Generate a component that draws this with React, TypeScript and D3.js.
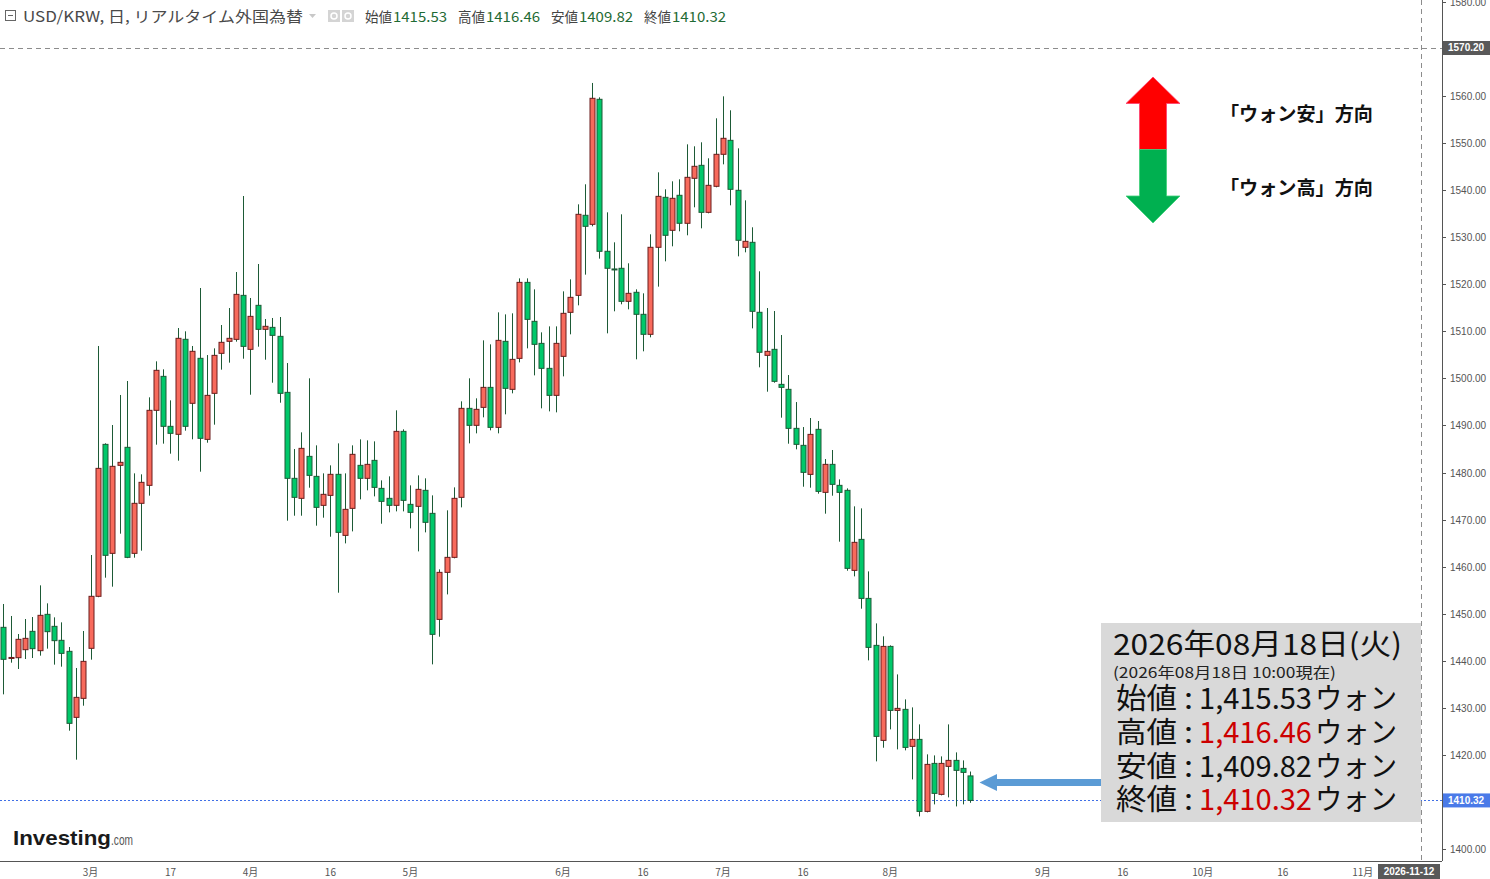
import { useEffect, useRef } from "react";
import * as d3 from "d3";

// daily candles, USD/KRW (trading days from 2026-02-12 to 2026-08-18)
const opens = [
  1447.1, 1440.5, 1440.65, 1442.35, 1446.25, 1442.14, 1449.86, 1447.31, 1444.34, 1442.0,
  1427.97, 1432.01, 1442.64, 1453.69, 1485.98, 1462.82, 1481.52, 1485.35, 1462.82, 1473.45,
  1477.27, 1493.21, 1500.43, 1489.81, 1488.11, 1508.3, 1494.7, 1504.26, 1487.04, 1496.82,
  1505.32, 1507.87, 1508.29, 1517.64, 1506.17, 1515.52, 1510.42, 1510.84, 1508.93, 1497.03,
  1478.76, 1474.51, 1483.43, 1479.18, 1473.02, 1475.14, 1479.61, 1466.64, 1472.38, 1481.52,
  1478.76, 1482.58, 1476.63, 1474.51, 1473.02, 1488.74, 1473.23, 1472.81, 1476.21, 1471.32,
  1448.79, 1458.78, 1461.97, 1474.72, 1493.63, 1490.02, 1493.84, 1498.09, 1489.59, 1507.87,
  1497.67, 1504.25, 1520.4, 1512.12, 1507.44, 1502.13, 1496.39, 1504.68, 1514.03, 1517.64,
  1534.65, 1532.73, 1559.3, 1527.0, 1523.25, 1523.39, 1516.37, 1518.29, 1513.61, 1509.36,
  1527.85, 1538.47, 1531.46, 1538.9, 1532.95, 1542.51, 1545.27, 1535.28, 1540.81, 1547.61,
  1550.58, 1539.96, 1527.85, 1528.91, 1514.04, 1504.89, 1506.17, 1498.73, 1497.67, 1489.38,
  1485.77, 1479.6, 1489.17, 1475.78, 1481.73, 1477.27, 1476.21, 1459.2, 1465.79, 1453.25,
  1443.27, 1423.08, 1443.05, 1429.45, 1429.67, 1421.81, 1423.29, 1407.99, 1418.19, 1411.61,
  1417.56, 1418.83, 1417.13, 1415.53,
];
const highs = [
  1452.06, 1449.51, 1445.68, 1448.87, 1449.29, 1456.02, 1452.2, 1449.22, 1448.16, 1442.92,
  1438.46, 1446.32, 1462.47, 1506.88, 1486.2, 1490.09, 1496.47, 1499.44, 1479.82, 1479.61,
  1495.97, 1503.62, 1501.92, 1495.33, 1510.7, 1510.0, 1506.88, 1519.2, 1504.96, 1506.38,
  1511.34, 1514.95, 1522.6, 1538.75, 1517.08, 1524.3, 1512.61, 1512.83, 1513.04, 1503.26,
  1484.99, 1488.53, 1500.01, 1485.77, 1479.82, 1481.52, 1486.19, 1479.82, 1485.77, 1487.04,
  1486.83, 1486.62, 1478.33, 1479.18, 1493.21, 1489.17, 1477.27, 1479.39, 1478.76, 1475.14,
  1459.42, 1471.96, 1476.84, 1495.12, 1500.01, 1495.76, 1508.08, 1507.23, 1514.03, 1513.6,
  1513.82, 1521.25, 1521.25, 1518.92, 1509.78, 1511.05, 1511.05, 1518.49, 1521.04, 1536.98,
  1541.24, 1562.77, 1559.72, 1535.28, 1528.91, 1534.86, 1524.45, 1518.92, 1518.07, 1530.61,
  1543.78, 1540.17, 1541.87, 1542.3, 1549.73, 1549.31, 1550.16, 1546.76, 1555.26, 1559.93,
  1556.96, 1548.88, 1537.83, 1532.1, 1522.75, 1514.95, 1514.31, 1509.21, 1500.71, 1494.97,
  1489.66, 1491.58, 1490.94, 1482.86, 1484.78, 1478.54, 1476.63, 1472.81, 1472.38, 1458.99,
  1447.94, 1445.18, 1443.27, 1437.1, 1431.79, 1430.09, 1426.48, 1420.11, 1419.89, 1419.68,
  1426.48, 1420.53, 1418.83, 1416.46,
];
const lows = [
  1432.86, 1439.59, 1438.25, 1440.37, 1440.58, 1441.08, 1442.57, 1439.17, 1438.74, 1425.14,
  1418.98, 1430.45, 1440.23, 1453.5, 1457.65, 1455.74, 1467.0, 1461.8, 1461.9, 1463.39,
  1475.08, 1485.91, 1486.13, 1484.0, 1482.51, 1488.89, 1487.05, 1480.17, 1486.33, 1490.16,
  1501.85, 1503.34, 1507.8, 1504.18, 1496.53, 1506.73, 1503.97, 1499.08, 1494.83, 1469.76,
  1470.82, 1470.82, 1476.77, 1468.7, 1470.4, 1466.36, 1454.46, 1464.94, 1467.49, 1474.29,
  1476.21, 1474.93, 1469.12, 1471.53, 1471.74, 1471.74, 1468.13, 1463.24, 1467.28, 1439.23,
  1445.11, 1454.1, 1461.76, 1472.59, 1486.19, 1488.32, 1491.72, 1488.96, 1488.32, 1492.36,
  1496.82, 1503.4, 1506.38, 1500.64, 1493.63, 1492.99, 1492.78, 1500.43, 1509.36, 1515.52,
  1522.04, 1532.31, 1525.44, 1509.57, 1514.25, 1515.74, 1514.67, 1504.05, 1505.75, 1508.72,
  1519.49, 1524.87, 1528.06, 1531.25, 1530.4, 1536.35, 1531.88, 1535.07, 1540.6, 1545.48,
  1536.77, 1525.93, 1526.78, 1510.63, 1502.35, 1497.17, 1499.08, 1491.65, 1486.12, 1484.92,
  1476.98, 1476.77, 1475.5, 1471.25, 1475.07, 1465.3, 1459.13, 1457.93, 1451.06, 1440.08,
  1418.62, 1421.52, 1425.42, 1421.17, 1420.96, 1414.79, 1406.93, 1407.78, 1409.48, 1411.39,
  1410.97, 1409.05, 1409.48, 1409.82,
];
const closes = [
  1440.3, 1440.7, 1444.55, 1444.76, 1442.57, 1449.65, 1446.18, 1444.27, 1441.57, 1426.7,
  1432.22, 1439.87, 1453.69, 1480.88, 1462.4, 1481.31, 1482.16, 1461.97, 1473.45, 1477.91,
  1493.21, 1501.71, 1489.81, 1488.32, 1508.51, 1489.81, 1505.75, 1487.26, 1496.39, 1504.89,
  1507.66, 1508.51, 1517.85, 1506.8, 1513.18, 1510.42, 1511.06, 1509.14, 1496.82, 1478.76,
  1474.72, 1485.13, 1479.39, 1472.59, 1475.36, 1479.61, 1467.28, 1472.17, 1483.86, 1478.76,
  1481.73, 1476.84, 1473.87, 1473.02, 1488.74, 1474.08, 1471.53, 1476.42, 1469.41, 1445.61,
  1458.78, 1461.97, 1474.51, 1493.63, 1490.02, 1493.42, 1498.09, 1489.59, 1508.08, 1497.88,
  1504.04, 1520.4, 1512.54, 1507.23, 1502.13, 1496.39, 1507.44, 1513.82, 1517.22, 1534.86,
  1532.31, 1559.51, 1527.0, 1523.39, 1523.1, 1516.37, 1518.07, 1513.61, 1509.36, 1527.85,
  1538.68, 1530.4, 1538.26, 1532.95, 1542.72, 1545.06, 1535.28, 1541.02, 1547.61, 1551.01,
  1540.17, 1529.34, 1529.12, 1514.25, 1505.54, 1505.74, 1499.37, 1498.09, 1489.38, 1485.98,
  1480.03, 1488.1, 1475.99, 1481.73, 1477.48, 1475.78, 1459.63, 1465.16, 1453.25, 1442.84,
  1423.93, 1443.05, 1429.45, 1429.88, 1421.59, 1423.29, 1407.99, 1417.98, 1411.82, 1418.19,
  1418.83, 1416.71, 1416.28, 1410.32,
];

const firstDate = "2026-02-12";
const tickDates = [
  "2026-03-02", "2026-03-17", "2026-04-01", "2026-04-16", "2026-05-01",
  "2026-06-01", "2026-06-16", "2026-07-01", "2026-07-16", "2026-08-03",
  "2026-09-01", "2026-09-16", "2026-10-01", "2026-10-16", "2026-11-02",
];
const tickLabels = ["3月", "17", "4月", "16", "5月", "6月", "16", "7月", "16", "8月", "9月", "16", "10月", "16", "11月"];
const priceTicks = [1400, 1410, 1420, 1430, 1440, 1450, 1460, 1470, 1480, 1490, 1500, 1510, 1520, 1530, 1540, 1550, 1560, 1570, 1580];
const refPrice = 1570.2;
const lastPrice = 1410.32;
const markerDate = "2026-11-12";

const headerTitle = "USD/KRW, 日, リアルタイム外国為替";
const headerLabels = ["始値", "高値", "安値", "終値"];
const headerValues = ["1415.53", "1416.46", "1409.82", "1410.32"];

const legendTexts = ["「ウォン安」方向", "「ウォン高」方向"];
const infoTitle = "2026年08月18日(火)";
const infoSub = "(2026年08月18日 10:00現在)";
const infoValues = ["1,415.53", "1,416.46", "1,409.82", "1,410.32"];
const infoRed = [false, true, false, true];

const W = 1490;
const H = 879;
const plotRight = 1442;
const plotBottom = 861;
const jp = "'Noto Sans CJK JP', sans-serif";
const ax = "'Liberation Sans', Arial, sans-serif";

export default function App() {
  const svgRef = useRef<SVGSVGElement | null>(null);

  useEffect(() => {
    if (!svgRef.current) return;
    const svg = d3.select(svgRef.current);
    svg.selectAll("*").remove();

    // trading days (weekdays) on the x axis, including the empty future part
    const parse = d3.utcParse("%Y-%m-%d");
    const days = d3.utcDay
      .range(parse(firstDate)!, parse("2026-11-30")!)
      .filter((d) => d.getUTCDay() !== 0 && d.getUTCDay() !== 6);
    const dayIndex = (s: string) => days.findIndex((d) => +d === +parse(s)!);

    const x = d3.scaleLinear().domain([-0.45, 197.9]).range([0, plotRight]);
    const y = d3.scaleLinear().domain([1400, 1560]).range([849, 96]);

    svg.append("rect").attr("width", W).attr("height", H).attr("fill", "#fff");

    svg
      .append("clipPath")
      .attr("id", "plot")
      .append("rect")
      .attr("width", plotRight)
      .attr("height", plotBottom);

    // reference lines
    svg
      .append("line")
      .attr("x1", 0)
      .attr("x2", plotRight)
      .attr("y1", Math.round(y(refPrice)) + 0.5)
      .attr("y2", Math.round(y(refPrice)) + 0.5)
      .attr("stroke", "#8c8c8c")
      .attr("stroke-dasharray", "5,4");

    const xm = x(dayIndex(markerDate));
    svg
      .append("line")
      .attr("x1", Math.round(xm) + 0.5)
      .attr("x2", Math.round(xm) + 0.5)
      .attr("y1", 0)
      .attr("y2", plotBottom)
      .attr("stroke", "#8c8c8c")
      .attr("stroke-dasharray", "5,4");

    svg
      .append("line")
      .attr("x1", 0)
      .attr("x2", plotRight)
      .attr("y1", Math.round(y(lastPrice)) + 0.5)
      .attr("y2", Math.round(y(lastPrice)) + 0.5)
      .attr("stroke", "#3f6fe6")
      .attr("stroke-dasharray", "2,2");

    // candles
    const idx = d3.range(closes.length);
    const g = svg.append("g").attr("clip-path", "url(#plot)");
    g.selectAll("line.wick")
      .data(idx)
      .join("line")
      .attr("class", "wick")
      .attr("x1", (i) => Math.round(x(i)) + 0.5)
      .attr("x2", (i) => Math.round(x(i)) + 0.5)
      .attr("y1", (i) => y(highs[i]))
      .attr("y2", (i) => y(lows[i]))
      .attr("stroke", "#1d5a36")
      .attr("stroke-width", 1);

    g.selectAll("rect.body")
      .data(idx)
      .join("rect")
      .attr("class", "body")
      .attr("x", (i) => Math.round(x(i)) - 2)
      .attr("width", 5)
      .attr("y", (i) => y(Math.max(opens[i], closes[i])))
      .attr("height", (i) => Math.max(1, Math.abs(y(opens[i]) - y(closes[i]))))
      .attr("fill", (i) => (closes[i] >= opens[i] ? "#f86a5c" : "#00c86a"))
      .attr("stroke", (i) => (closes[i] >= opens[i] ? "#6b1c1c" : "#1d5a36"))
      .attr("stroke-width", 1);

    // right price axis
    svg
      .append("line")
      .attr("x1", plotRight + 0.5)
      .attr("x2", plotRight + 0.5)
      .attr("y1", 0)
      .attr("y2", plotBottom)
      .attr("stroke", "#555");
    const yt = svg.append("g");
    priceTicks.forEach((t) => {
      const yy = Math.round(y(t)) + 0.5;
      yt.append("line")
        .attr("x1", plotRight)
        .attr("x2", plotRight + 4)
        .attr("y1", yy)
        .attr("y2", yy)
        .attr("stroke", "#555");
      yt.append("text")
        .attr("x", plotRight + 8)
        .attr("y", yy)
        .attr("dy", "0.35em")
        .attr("font-family", ax)
        .attr("font-size", 10)
        .attr("fill", "#555")
        .text(t.toFixed(2));
    });

    const priceTag = (v: number, bg: string) => {
      const yy = y(v);
      svg
        .append("rect")
        .attr("x", plotRight + 1)
        .attr("y", yy - 7)
        .attr("width", W - plotRight - 1)
        .attr("height", 14)
        .attr("fill", bg);
      svg
        .append("text")
        .attr("x", plotRight + 6)
        .attr("y", yy)
        .attr("dy", "0.35em")
        .attr("font-family", ax)
        .attr("font-size", 10)
        .attr("font-weight", "bold")
        .attr("fill", "#fff")
        .text(v.toFixed(2));
    };
    priceTag(refPrice, "#595959");
    priceTag(lastPrice, "#4a7ae8");

    // bottom time axis
    svg
      .append("line")
      .attr("x1", 0)
      .attr("x2", plotRight)
      .attr("y1", plotBottom + 0.5)
      .attr("y2", plotBottom + 0.5)
      .attr("stroke", "#555");
    tickDates.forEach((d, k) => {
      svg
        .append("text")
        .attr("x", x(dayIndex(d)))
        .attr("y", 876)
        .attr("text-anchor", "middle")
        .attr("font-family", jp)
        .attr("font-size", 10)
        .attr("fill", "#555")
        .text(tickLabels[k]);
    });
    const mw = 62;
    const mx = Math.min(xm - mw / 2, plotRight - 2 - mw);
    svg.append("rect").attr("x", mx).attr("y", 864).attr("width", mw).attr("height", 15).attr("fill", "#595959");
    svg
      .append("text")
      .attr("x", mx + mw / 2)
      .attr("y", 875)
      .attr("text-anchor", "middle")
      .attr("font-family", ax)
      .attr("font-size", 10)
      .attr("font-weight", "bold")
      .attr("fill", "#fff")
      .text(markerDate);

    // header
    const hd = svg.append("g");
    hd.append("rect").attr("x", 5.5).attr("y", 10.5).attr("width", 10).attr("height", 10).attr("fill", "none").attr("stroke", "#666");
    hd.append("line").attr("x1", 8).attr("x2", 13).attr("y1", 15.5).attr("y2", 15.5).attr("stroke", "#666");
    hd.append("text")
      .attr("x", 23)
      .attr("y", 22)
      .attr("font-family", jp)
      .attr("font-size", 15)
      .attr("fill", "#4a4a4a")
      .attr("textLength", 280)
      .attr("lengthAdjust", "spacingAndGlyphs")
      .text(headerTitle);
    hd.append("path").attr("d", "M309,14 L316,14 L312.5,18 Z").attr("fill", "#c8c8c8");
    [328, 342].forEach((ix) => {
      hd.append("rect").attr("x", ix).attr("y", 10).attr("width", 12).attr("height", 12).attr("fill", "#d4d4d4");
      hd.append("circle").attr("cx", ix + 6).attr("cy", 16).attr("r", 3).attr("fill", "none").attr("stroke", "#fff").attr("stroke-width", 1.5);
    });
    headerLabels.forEach((l, k) => {
      const x0 = 365 + k * 93;
      hd.append("text")
        .attr("x", x0)
        .attr("y", 22)
        .attr("font-family", jp)
        .attr("font-size", 14)
        .attr("fill", "#444")
        .attr("textLength", 27)
        .attr("lengthAdjust", "spacingAndGlyphs")
        .text(l);
      hd.append("text")
        .attr("x", x0 + 28)
        .attr("y", 22)
        .attr("font-family", jp)
        .attr("font-size", 14)
        .attr("fill", "#1f6b35")
        .attr("textLength", 54)
        .attr("lengthAdjust", "spacingAndGlyphs")
        .text(headerValues[k]);
    });

    // direction arrows
    svg
      .append("path")
      .attr("d", "M1153,77 L1180,103.5 L1166.5,103.5 L1166.5,149.5 L1139.5,149.5 L1139.5,103.5 L1126,103.5 Z")
      .attr("fill", "#ff0000")
      .attr("stroke", "#ff3d6e")
      .attr("stroke-width", 0.8);
    svg
      .append("path")
      .attr("d", "M1139.5,149.5 L1166.5,149.5 L1166.5,196 L1180,196 L1153,223 L1126,196 L1139.5,196 Z")
      .attr("fill", "#00b050")
      .attr("stroke", "#3fd07a")
      .attr("stroke-width", 0.8);
    legendTexts.forEach((t, k) => {
      svg
        .append("text")
        .attr("x", 1220)
        .attr("y", k === 0 ? 121 : 195)
        .attr("font-family", jp)
        .attr("font-size", 19)
        .attr("font-weight", "bold")
        .attr("fill", "#111")
        .attr("textLength", 153)
        .attr("lengthAdjust", "spacingAndGlyphs")
        .text(t);
    });

    // info box
    svg.append("rect").attr("x", 1101).attr("y", 623).attr("width", 320).attr("height", 199).attr("fill", "#d9d9d9");
    svg
      .append("text")
      .attr("x", 1113)
      .attr("y", 655)
      .attr("font-family", jp)
      .attr("font-size", 29)
      .attr("fill", "#111")
      .attr("textLength", 289)
      .attr("lengthAdjust", "spacingAndGlyphs")
      .text(infoTitle);
    svg
      .append("text")
      .attr("x", 1113)
      .attr("y", 678)
      .attr("font-family", jp)
      .attr("font-size", 15)
      .attr("fill", "#222")
      .attr("textLength", 223)
      .attr("lengthAdjust", "spacingAndGlyphs")
      .text(infoSub);
    const rowBase = [709, 743, 777, 810];
    headerLabels.forEach((l, k) => {
      const by = rowBase[k];
      const put = (t: string, x0: number, w: number, fill: string) =>
        svg
          .append("text")
          .attr("x", x0)
          .attr("y", by)
          .attr("font-family", jp)
          .attr("font-size", 29)
          .attr("fill", fill)
          .attr("textLength", w)
          .attr("lengthAdjust", "spacingAndGlyphs")
          .text(t);
      put(l, 1116, 61, "#111");
      put(":", 1184, 9, "#111");
      put(infoValues[k], 1199, 113, infoRed[k] ? "#cc0000" : "#111");
      put("ウォン", 1315, 82, "#111");
    });

    // pointer arrow to the last candle
    svg
      .append("path")
      .attr("d", "M979.5,782.5 L997,774 L997,779 L1101,779 L1101,786 L997,786 L997,791 Z")
      .attr("fill", "#5b9bd5");

    // logo
    svg
      .append("text")
      .attr("x", 13)
      .attr("y", 845)
      .attr("font-family", ax)
      .attr("font-size", 21)
      .attr("font-weight", "bold")
      .attr("fill", "#1a1a1a")
      .attr("textLength", 98)
      .attr("lengthAdjust", "spacingAndGlyphs")
      .text("Investing");
    svg
      .append("text")
      .attr("x", 111)
      .attr("y", 845)
      .attr("font-family", ax)
      .attr("font-size", 14)
      .attr("fill", "#555")
      .attr("textLength", 22)
      .attr("lengthAdjust", "spacingAndGlyphs")
      .text(".com");
  }, []);

  return (
    <svg
      ref={svgRef}
      width={W}
      height={H}
      style={{ position: "absolute", left: 0, top: 0, display: "block" }}
    />
  );
}
